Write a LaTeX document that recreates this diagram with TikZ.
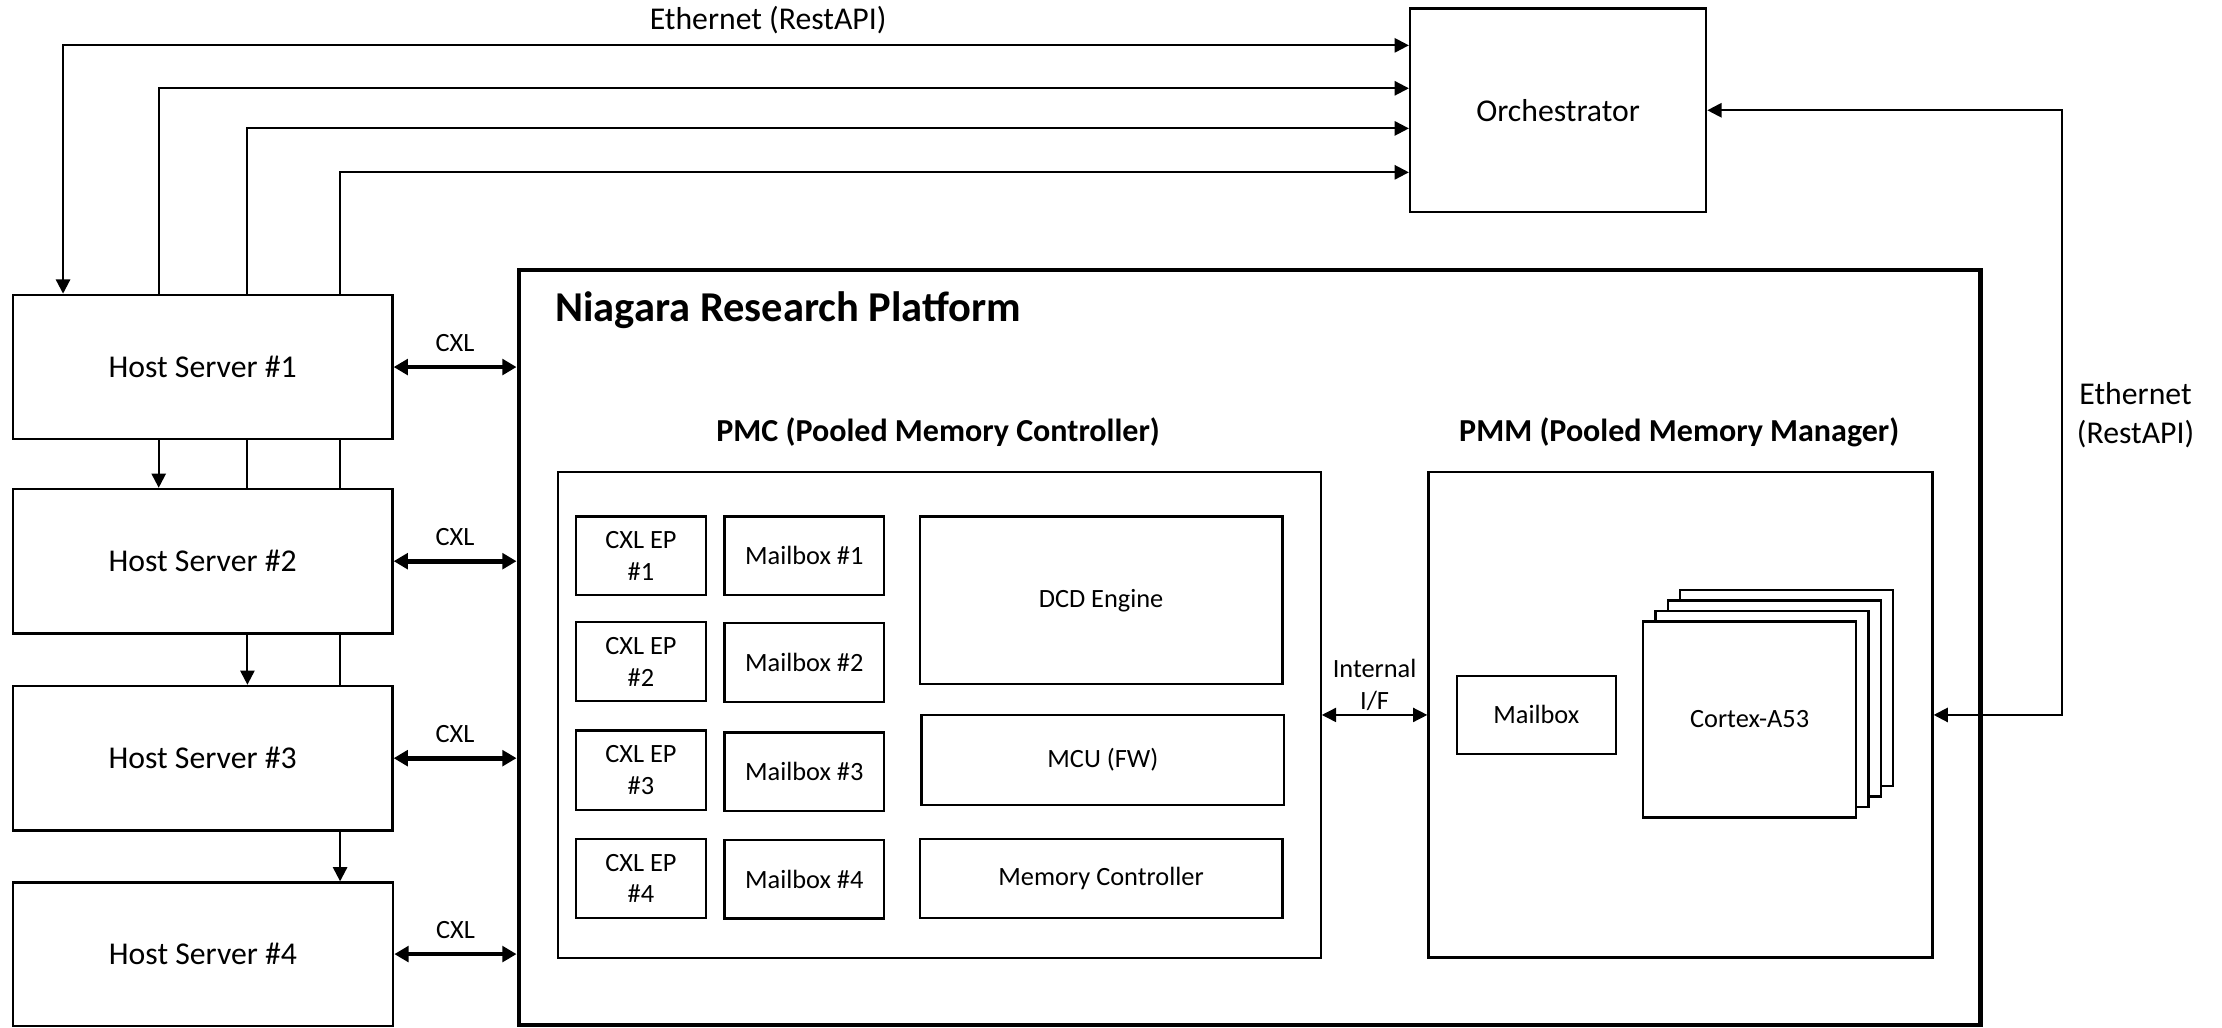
\documentclass[tikz,border=0pt]{standalone}
\usepackage{fontspec}
\setmainfont{Carlito}
\usetikzlibrary{arrows.meta,fit,calc}
\begin{document}
\begin{tikzpicture}[x=0.5pt,y=-0.5pt,
  fbig/.style={font=\fontsize{11.2pt}{13.6pt}\selectfont},
  fsmall/.style={font=\fontsize{9.3pt}{11.2pt}\selectfont},
  fsub/.style={font=\fontsize{11.3pt}{13.6pt}\selectfont\bfseries},
  ftitle/.style={font=\fontsize{15pt}{18pt}\selectfont\bfseries},
  box/.style={draw, line width=0.8pt, inner sep=0pt, fill=white},
  bigtext/.style={label={[fbig, align=center, inner sep=0pt]center:#1}},
  smalltext/.style={label={[fsmall, align=center, inner sep=0pt]center:#1}},
  bigframe/.style={draw, line width=1.5pt, inner sep=0pt},
  conn/.style={line width=0.75pt, >={Triangle[length=5pt,width=5pt]}, ->},
  plainline/.style={line width=0.75pt},
  biconn/.style={line width=0.75pt, >={Triangle[length=5pt,width=5pt]}, <->},
  cxl/.style={line width=1.7pt, >={Triangle[length=5pt,width=5.5pt]}, <->},
]
\useasboundingbox (0,0) rectangle (1568,725);

% hosts and orchestrator
\node[box, fit={(9,208)(277,310)}, bigtext={Host Server \#1}] (h1) {};
\node[box, fit={(9,345)(277,447)}, bigtext={Host Server \#2}] (h2) {};
\node[box, fit={(9,484)(277,586)}, bigtext={Host Server \#3}] (h3) {};
\node[box, fit={(9,622.7)(277.5,723.8)}, bigtext={Host Server \#4}] (h4) {};
\node[box, fit={(995,6)(1204,149.6)}, bigtext={Orchestrator}] (orch) {};

% platform frame
\node[bigframe, fit={(366,190.5)(1397.5,723.3)}] (nrp) {};
\node[ftitle, anchor=base west, inner sep=0pt] (nrpt) at (391.6,227) {Niagara Research Platform};
\node[fsub, anchor=base, inner sep=0pt] (pmct) at (662,311.5) {PMC (Pooled Memory Controller)};
\node[fsub, anchor=base, inner sep=0pt] (pmmt) at (1185,311.5) {PMM (Pooled Memory Manager)};

\node[box, fit={(394,333)(932,676)}] (pmc) {};
\node[box, fit={(1008,333)(1363.7,675.7)}] (pmm) {};

% PMC contents
\node[box, fit={(406.3,364.4)(498.3,420.1)}, smalltext={CXL EP\\\#1}] (ep1) {};
\node[box, fit={(406.3,439)(498.3,494.7)}, smalltext={CXL EP\\\#2}] (ep2) {};
\node[box, fit={(406.3,515.5)(498.3,571.5)}, smalltext={CXL EP\\\#3}] (ep3) {};
\node[box, fit={(406.3,592)(498.3,647.7)}, smalltext={CXL EP\\\#4}] (ep4) {};
\node[box, fit={(511.3,364.4)(623.9,420.1)}, smalltext={Mailbox \#1}] (mb1) {};
\node[box, fit={(511.3,439.5)(623.9,495.4)}, smalltext={Mailbox \#2}] (mb2) {};
\node[box, fit={(511.3,516.8)(623.9,572.3)}, smalltext={Mailbox \#3}] (mb3) {};
\node[box, fit={(511.3,592.5)(623.9,648.2)}, smalltext={Mailbox \#4}] (mb4) {};
\node[box, fit={(649,364.4)(905,482.9)}, smalltext={DCD Engine}] (dcd) {};
\node[box, fit={(650.3,504.7)(906.3,568)}, smalltext={MCU (FW)}] (mcu) {};
\node[box, fit={(649,592.2)(905,647.7)}, smalltext={Memory Controller}] (memc) {};

% PMM contents
\node[box, fit={(1027.9,476.8)(1140.4,532.2)}, smalltext={Mailbox}] (pmmmb) {};
\node[box, fit={(1185.6,416.4)(1335.9,554.7)}] (cx4) {};
\node[box, fit={(1176.9,423.8)(1327.2,562.1)}] (cx3) {};
\node[box, fit={(1168.2,431.2)(1318.5,569.5)}] (cx2) {};
\node[box, fit={(1159.5,438.6)(1309.8,576.8)}, smalltext={Cortex-A53}] (cx1) {};

% routing coordinates
\coordinate (t1) at (44.5,32);
\coordinate (t2) at (112,62.3);
\coordinate (t3) at (174.6,90.6);
\coordinate (t4) at (240,121.6);
\coordinate (er) at (1455,0);
\coordinate (iif) at (970,504.5);

% Ethernet to orchestrator
\draw[biconn] (t1 -| orch.west) -- (t1) -- (t1 |- h1.north);
\draw[conn] (t2 |- h1.north) -- (t2) -- (t2 -| orch.west);
\draw[conn] (t3 |- h1.north) -- (t3) -- (t3 -| orch.west);
\draw[conn] (t4 |- h1.north) -- (t4) -- (t4 -| orch.west);
\node[fbig, anchor=base, inner sep=0pt] (etht) at (542,20.7) {Ethernet (RestAPI)};

% between hosts
\draw[conn] (t2 |- h1.south) -- (t2 |- h2.north);
\draw[plainline] (t3 |- h1.south) -- (t3 |- h2.north);
\draw[conn] (t3 |- h2.south) -- (t3 |- h3.north);
\draw[plainline] (t4 |- h1.south) -- (t4 |- h2.north);
\draw[plainline] (t4 |- h2.south) -- (t4 |- h3.north);
\draw[conn] (t4 |- h3.south) -- (t4 |- h4.north);

% CXL links
\foreach \h in {h1,h2,h3,h4}{
  \draw[cxl] (\h.east) -- (\h.east -| nrp.west)
    node[midway, above=4.5pt, inner sep=0pt, fsmall] {CXL};
}

% internal interface
\draw[biconn, line width=0.5pt] (iif -| pmc.east) -- (iif -| pmm.west);
\node[align=center, anchor=south, inner sep=0pt, font=\fontsize{9.3pt}{11.5pt}\selectfont] (iift) at (970,502) {Internal\\I/F};

% Ethernet to PMM
\draw[biconn] (orch.east) -- (orch.east -| er) -- (er |- iif) -- (iif -| pmm.east);
\node[fbig, align=center] (ethr) at (1507,293) {Ethernet\\(RestAPI)};
\end{tikzpicture}
\end{document}
